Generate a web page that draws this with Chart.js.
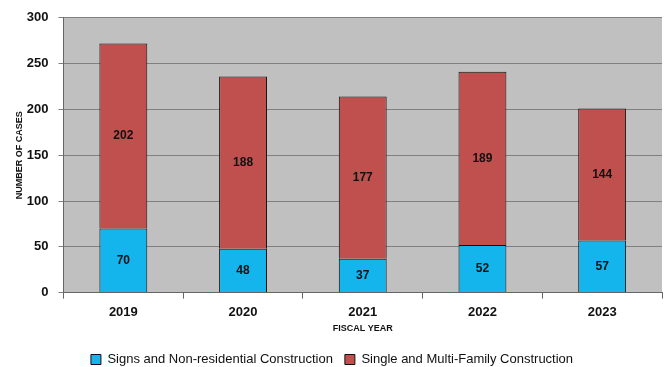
<!DOCTYPE html>
<html>
<head>
<meta charset="utf-8">
<script src="https://cdn.jsdelivr.net/npm/chart.js@4/dist/chart.umd.min.js"></script>
<style>
  html, body { margin: 0; padding: 0; background: #fff; }
  #wrap { width: 668px; height: 367px; }
</style>
</head>
<body>
<div id="wrap"><canvas id="myChart"></canvas></div>
<script>
const years = ["2019", "2020", "2021", "2022", "2023"];
const signsCases = [70, 48, 37, 52, 57];
const residentialCases = [202, 188, 177, 189, 144];
const yTicks = [0, 50, 100, 150, 200, 250, 300];

const FONT = "'Liberation Sans', Arial, sans-serif";

// writes each segment's value in the middle of its bar piece
const segmentLabels = {
  id: "segmentLabels",
  afterDatasetsDraw(chart) {
    const ctx = chart.ctx;
    ctx.save();
    ctx.font = "bold 12px " + FONT;
    ctx.fillStyle = "#111";
    ctx.textAlign = "center";
    ctx.textBaseline = "middle";
    chart.data.datasets.forEach((ds, i) => {
      const meta = chart.getDatasetMeta(i);
      meta.data.forEach((bar, j) => {
        const mid = (bar.y + bar.base) / 2;
        ctx.fillText(String(ds.data[j]), bar.x, mid);
      });
    });
    ctx.restore();
  }
};

// gray plot area behind the bars
const plotBackground = {
  id: "plotBackground",
  beforeDraw(chart) {
    const { ctx, chartArea } = chart;
    ctx.save();
    ctx.fillStyle = "#c0c0c0";
    ctx.fillRect(chartArea.left, chartArea.top, chartArea.right - chartArea.left, chartArea.bottom - chartArea.top);
    ctx.restore();
  }
};

new Chart("myChart", {
  type: "bar",
  data: {
    labels: years,
    datasets: [
      {
        label: "Signs and Non-residential Construction",
        data: signsCases,
        backgroundColor: "#14b4ec",
        borderColor: "#111",
        borderWidth: 1,
        barPercentage: 0.8,
        categoryPercentage: 0.5
      },
      {
        label: "Single and Multi-Family Construction",
        data: residentialCases,
        backgroundColor: "#c0504d",
        borderColor: "#111",
        borderWidth: 1,
        barPercentage: 0.8,
        categoryPercentage: 0.5
      }
    ]
  },
  plugins: [plotBackground, segmentLabels],
  options: {
    responsive: true,
    maintainAspectRatio: false,
    animation: false,
    layout: { padding: { top: 13, right: 6, left: 2, bottom: -9 } },
    plugins: {
      tooltip: { enabled: false },
      legend: {
        position: "bottom",
        labels: {
          font: { family: FONT, size: 13 },
          color: "#111",
          boxWidth: 10,
          boxHeight: 10,
          padding: 12,
          useBorderRadius: false
        }
      }
    },
    scales: {
      x: {
        stacked: true,
        grid: { offset: true, display: true, drawOnChartArea: false, color: "#666", tickLength: 6 },
        border: { color: "#666" },
        ticks: { font: { family: FONT, size: 13, weight: "bold" }, color: "#111", padding: 6 },
        title: {
          display: true,
          text: "FISCAL YEAR",
          font: { family: FONT, size: 9, weight: "bold" },
          color: "#111",
          padding: { top: -3, bottom: 7 }
        }
      },
      y: {
        stacked: true,
        min: 0,
        max: 300,
        afterBuildTicks(axis) { axis.ticks = yTicks.map(v => ({ value: v })); },
        grid: { color: "#808080", tickLength: 5 },
        border: { color: "#666" },
        ticks: { font: { family: FONT, size: 13, weight: "bold" }, color: "#111", padding: 10 },
        title: {
          display: true,
          text: "NUMBER OF CASES",
          font: { family: FONT, size: 9, weight: "bold" },
          color: "#111",
          padding: { top: 12, bottom: -8 }
        }
      }
    }
  }
});
</script>
</body>
</html>
